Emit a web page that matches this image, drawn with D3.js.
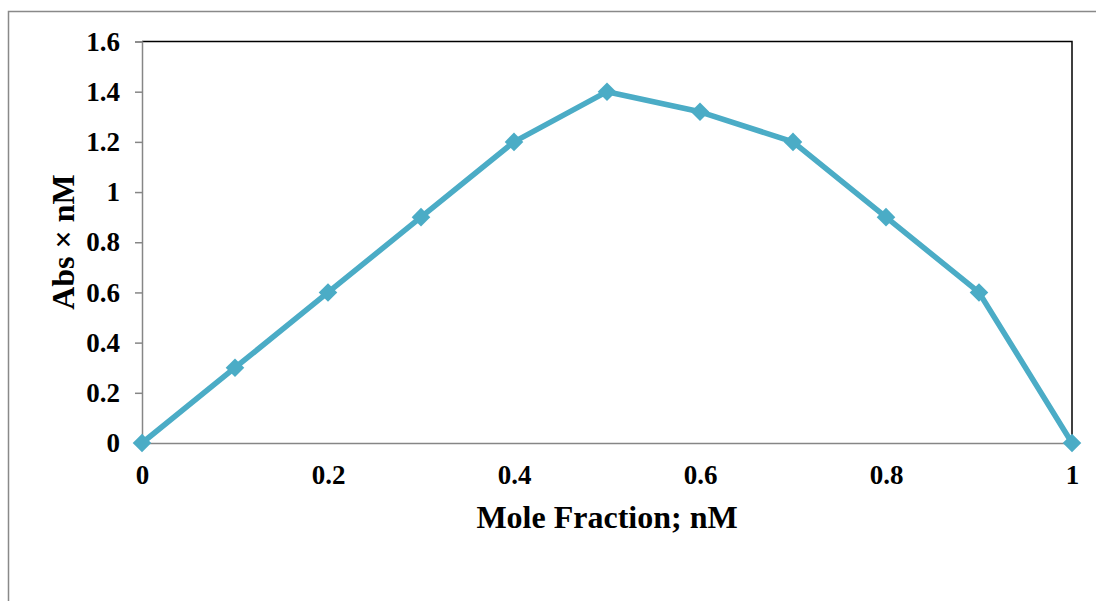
<!DOCTYPE html>
<html><head><meta charset="utf-8">
<script src="https://cdn.jsdelivr.net/npm/d3@7"></script>
<style>body{margin:0;background:#fff;}svg{display:block;}</style>
</head><body>
<script>
const xValues = [0, 0.1, 0.2, 0.3, 0.4, 0.5, 0.6, 0.7, 0.8, 0.9, 1.0];
const yValues = [0, 0.3, 0.6, 0.9, 1.2, 1.4, 1.32, 1.2, 0.9, 0.6, 0];
const xTicks = [0, 0.2, 0.4, 0.6, 0.8, 1];
const yTicks = [0, 0.2, 0.4, 0.6, 0.8, 1, 1.2, 1.4, 1.6];
const xTitle = "Mole Fraction; nM";
const yTitle = "Abs × nM";

const W = 1096, H = 601;
const svg = d3.select("body").append("svg").attr("width", W).attr("height", H);
const font = "'Liberation Serif', 'Times New Roman', serif";

// outer frame
svg.append("rect").attr("x", 8.5).attr("y", 11.5).attr("width", 1100).attr("height", 620)
  .attr("fill", "none").attr("stroke", "#898989").attr("stroke-width", 1.5);

const L = 142, R = 1072, T = 41.5, B = 443;
const x = d3.scaleLinear().domain([0, 1]).range([L, R]);
const y = d3.scaleLinear().domain([0, 1.6]).range([B, T]);

// top and right border
svg.append("path").attr("d", `M${L},${T}H${R}V${B}`).attr("fill", "none")
  .attr("stroke", "#000").attr("stroke-width", 1.5);

// y axis
const yAxis = svg.append("g").attr("transform", `translate(${L},0)`)
  .call(d3.axisLeft(y).tickValues(yTicks).tickSize(7).tickPadding(15).tickFormat(d3.format("")));
yAxis.select(".domain").attr("stroke", "#868686").attr("stroke-width", 1.5);
yAxis.selectAll(".tick line").attr("stroke", "#868686").attr("stroke-width", 1.5);
yAxis.selectAll("text").attr("font-family", font).attr("font-weight", "bold")
  .attr("font-size", 27).attr("fill", "#000");

// x axis
const xAxis = svg.append("g").attr("transform", `translate(0,${B})`)
  .call(d3.axisBottom(x).tickValues(xTicks).tickSize(0).tickFormat(d3.format("")));
xAxis.select(".domain").attr("stroke", "#868686").attr("stroke-width", 1.5);
xAxis.selectAll("text").attr("font-family", font).attr("font-weight", "bold")
  .attr("font-size", 27).attr("fill", "#000").attr("y", 41).attr("dy", 0);

// titles
svg.append("text").attr("x", (L + R) / 2 - 0).attr("y", 528).attr("text-anchor", "middle")
  .attr("font-family", font).attr("font-weight", "bold").attr("font-size", 32).text(xTitle);
svg.append("text").attr("transform", `translate(74,242) rotate(-90)`)
  .attr("text-anchor", "middle").attr("font-family", font).attr("font-weight", "bold")
  .attr("font-size", 32).text(yTitle);

// line
const pts = xValues.map((v, i) => [v, yValues[i]]);
const color = "#4bacc6";
svg.append("path").datum(pts)
  .attr("d", d3.line().x(d => x(d[0])).y(d => y(d[1])))
  .attr("fill", "none").attr("stroke", color).attr("stroke-width", 5.5).attr("stroke-linejoin", "round");

const sym = d3.symbol().type(d3.symbolDiamond2).size(220);
svg.selectAll(".m").data(pts).enter().append("path")
  .attr("transform", d => `translate(${x(d[0])},${y(d[1])})`)
  .attr("d", sym).attr("fill", color);
</script>
</body></html>
